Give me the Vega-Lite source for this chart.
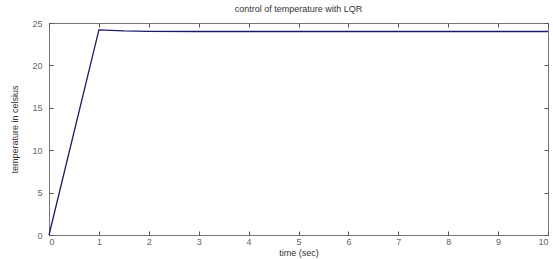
{
  "$schema": "https://vega.github.io/schema/vega-lite/v6.json",
  "autosize": {"type": "none"},
  "width": 499,
  "height": 212,
  "padding": {"left": 49, "top": 23, "right": 5, "bottom": 24},
  "background": "white",
  "title": {"text": "control of temperature with LQR", "font": "Liberation Sans", "fontSize": 9, "fontWeight": "normal", "color": "#333", "offset": 5},
  "config": {"view": {"stroke": "#777", "strokeWidth": 1}},
  "data": {"values": [
    {"t": 0, "y": 0},
    {"t": 1, "y": 24.18},
    {"t": 1.5, "y": 24.06},
    {"t": 2, "y": 24.02},
    {"t": 3, "y": 24.0},
    {"t": 10, "y": 24.0}
  ]},
  "layer": [
    {
      "mark": {"type": "line", "color": "#1c1c6b", "strokeWidth": 1.3},
      "encoding": {
        "x": {"field": "t", "type": "quantitative", "scale": {"domain": [0, 10], "nice": false},
          "axis": {"title": "time (sec)", "values": [0,1,2,3,4,5,6,7,8,9,10], "grid": false, "domain": false, "tickSize": -4, "tickColor": "#555", "labelFont": "Liberation Sans", "labelFontSize": 9, "labelColor": "#666", "labelPadding": 6, "titleFont": "Liberation Sans", "titleFontSize": 9, "titleFontWeight": "normal", "titleColor": "#333", "titlePadding": 2}},
        "y": {"field": "y", "type": "quantitative", "scale": {"domain": [0, 25], "nice": false},
          "axis": {"title": "temperature in celsius", "values": [0,5,10,15,20,25], "grid": false, "domain": false, "tickSize": -4, "tickColor": "#555", "labelFont": "Liberation Sans", "labelFontSize": 9, "labelColor": "#666", "labelPadding": 11, "titleFont": "Liberation Sans", "titleFontSize": 9, "titleFontWeight": "normal", "titleColor": "#333", "titlePadding": 12}}
      }
    },
    {
      "mark": {"type": "line", "opacity": 0},
      "encoding": {
        "x": {"field": "t", "type": "quantitative", "scale": {"domain": [0, 10], "nice": false},
          "axis": {"orient": "top", "title": null, "labels": false, "values": [0,1,2,3,4,5,6,7,8,9,10], "grid": false, "domain": false, "tickSize": -4, "tickColor": "#555"}},
        "y": {"field": "y", "type": "quantitative", "scale": {"domain": [0, 25], "nice": false},
          "axis": {"orient": "right", "title": null, "labels": false, "values": [0,5,10,15,20,25], "grid": false, "domain": false, "tickSize": -4, "tickColor": "#555"}}
      }
    }
  ],
  "resolve": {"axis": {"x": "independent", "y": "independent"}}
}
